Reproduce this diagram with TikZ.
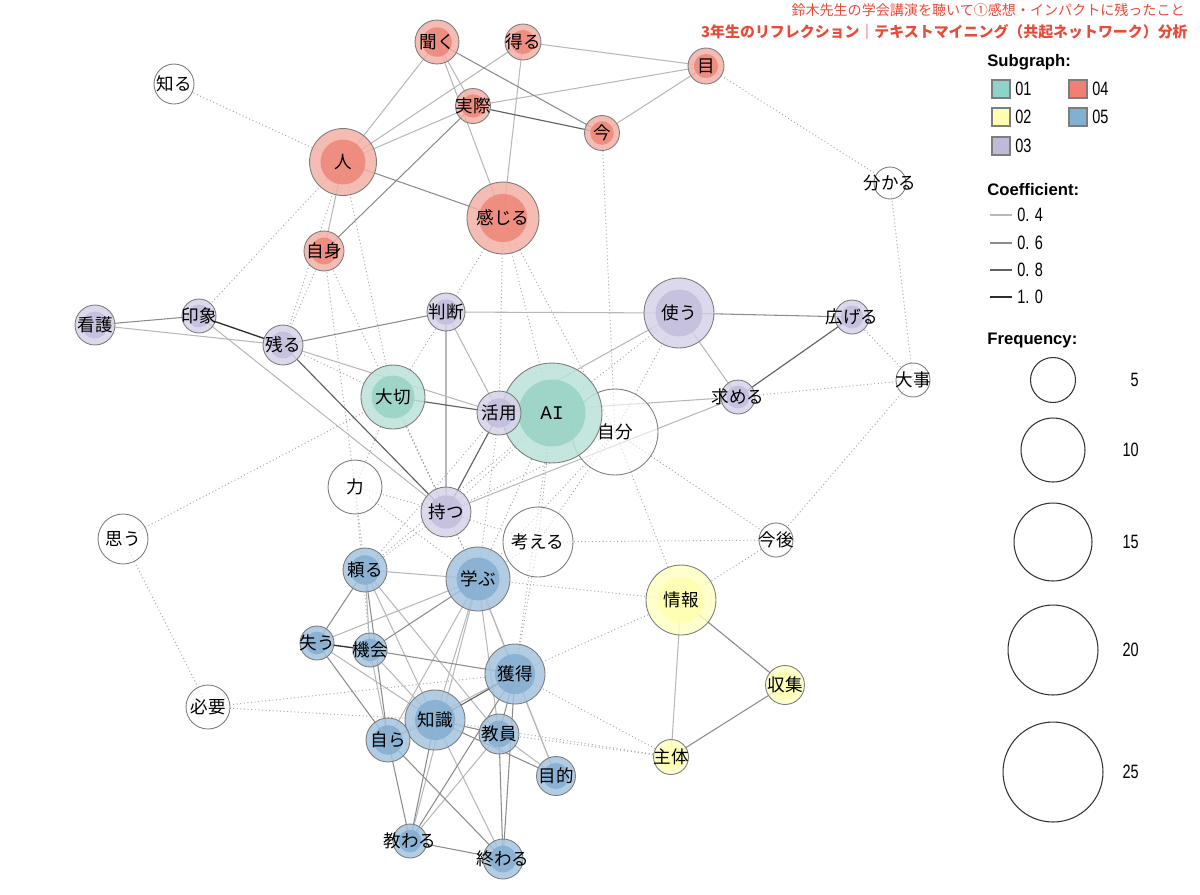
\documentclass[tikz,border=0pt]{standalone}
\usepackage{fontspec}
\setmainfont{Liberation Sans}
\newfontfamily\jp{Noto Sans CJK JP}
\newfontfamily\narrow[FakeStretch=0.75]{Liberation Sans}
\newfontfamily\mono{Liberation Mono}
\definecolor{ttl}{RGB}{234,74,56}
\definecolor{bord}{RGB}{125,125,125}
\definecolor{r4out}{RGB}{242,176,166}\definecolor{r4in}{RGB}{237,134,120}
\definecolor{p3out}{RGB}{213,210,231}\definecolor{p3in}{RGB}{194,190,220}
\definecolor{g1out}{RGB}{186,226,217}\definecolor{g1in}{RGB}{152,211,197}
\definecolor{b5out}{RGB}{164,195,223}\definecolor{b5in}{RGB}{134,174,209}
\definecolor{y2out}{RGB}{255,255,196}\definecolor{y2in}{RGB}{255,255,176}
\definecolor{s01}{RGB}{141,211,199}\definecolor{s02}{RGB}{255,255,179}
\definecolor{s03}{RGB}{190,186,218}\definecolor{s04}{RGB}{239,128,114}
\definecolor{s05}{RGB}{128,177,211}
\pgfdeclarelayer{edges}
\pgfsetlayers{edges,main}
\tikzset{
  clapped/.style={execute at begin node={\hbox to 0pt\bgroup\hss},execute at end node={\hss\egroup}},
  grp/.style n args={3}{circle,draw=bord,line width=.5pt,fill=#2,fill opacity=.85,text opacity=1,
    inner sep=0pt,minimum size=#1*0.04cm,clapped,
    path picture={\fill[#3] (path picture bounding box.center) circle[radius=#1*0.0134cm];}},
  g01/.style={grp={#1}{g1out}{g1in}},
  g02/.style={grp={#1}{y2out}{y2in}},
  g03/.style={grp={#1}{p3out}{p3in}},
  g04/.style={grp={#1}{r4out}{r4in}},
  g05/.style={grp={#1}{b5out}{b5in}},
  wn/.style={circle,draw=bord,line width=.5pt,fill=white,fill opacity=.6,text opacity=1,
    inner sep=0pt,minimum size=#1*0.04cm,clapped},
  coA/.style={draw=black!28,line width=.6pt},
  coB/.style={draw=black!45,line width=.6pt},
  coC/.style={draw=black!62,line width=.65pt},
  coD/.style={draw=black!82,line width=.75pt},
  xgrp/.style={draw=black!35,line width=.55pt,dash pattern=on .55pt off 1.5pt},
  head/.style={anchor=west,inner sep=0pt,font=\bfseries\fontsize{9.5}{10}\selectfont},
  leg/.style={anchor=west,inner sep=0pt,font=\narrow\fontsize{11}{12}\selectfont},
  swatch/.style={draw=bord,line width=.6pt,minimum size=0.36cm,inner sep=0pt}
}
\begin{document}
\begin{tikzpicture}[x=0.02cm,y=-0.02cm,font=\jp\fontsize{10}{11}\selectfont]
\useasboundingbox (0,0) rectangle (1200,894);
\node[anchor=east,inner sep=0pt,text=ttl,font=\jp\fontsize{8}{9}\selectfont] (title) at (1185,10) {鈴木先生の学会講演を聴いて①感想・インパクトに残ったこと};
\node[anchor=east,inner sep=0pt,text=ttl,font=\jp\bfseries\fontsize{8.5}{9}\selectfont] (subtitle) at (1188,32) {3年生のリフレクション｜テキストマイニング（共起ネットワーク）分析};
\node[wn=20] (shiru) at (174,84) {知る};
\node[wn=16] (wakaru) at (890,183) {分かる};
\node[wn=17] (daiji) at (913,380) {大事};
\node[wn=43] (jibun) at (615,432) {自分};
\node[wn=27] (chikara) at (355,487) {力};
\node[wn=25] (omou) at (123,539) {思う};
\node[wn=35] (kangaeru) at (538,542) {考える};
\node[wn=17] (kongo) at (776,540) {今後};
\node[wn=22] (hitsuyou) at (208,707) {必要};
\node[g04=22] (kiku) at (437,42) {聞く};
\node[g04=18] (eru) at (523,42) {得る};
\node[g04=18] (me) at (706,66) {目};
\node[g04=17.5] (jissai) at (473,106) {実際};
\node[g04=17.5] (ima) at (602,133) {今};
\node[g04=33.5] (hito) at (343,162) {人};
\node[g04=36] (kanjiru) at (503,218) {感じる};
\node[g04=20] (jishin) at (324,251) {自身};
\node[g01=32] (taisetsu) at (393,397) {大切};
\node[g01=50] (ai) at (552,413) {\mono\fontsize{11}{12}\selectfont AI};
\node[g03=20] (kango) at (95,325) {看護};
\node[g03=17] (inshou) at (199,316) {印象};
\node[g03=20] (nokoru) at (283,345) {残る};
\node[g03=19] (handan) at (446,312) {判断};
\node[g03=35] (tsukau) at (679,313) {使う};
\node[g03=17] (hirogeru) at (852,317) {広げる};
\node[g03=17] (motomeru) at (738,397) {求める};
\node[g03=22] (katsuyou) at (499,413) {活用};
\node[g03=25] (motsu) at (446,512) {持つ};
\node[g02=35] (jouhou) at (681,600) {情報};
\node[g02=19.5] (shuushuu) at (785,685) {収集};
\node[g02=17.5] (shutai) at (671,757) {主体};
\node[g05=22] (tayoru) at (365,570) {頼る};
\node[g05=32] (manabu) at (478,579) {学ぶ};
\node[g05=17] (ushinau) at (317,643) {失う};
\node[g05=17] (kikai) at (370,650) {機会};
\node[g05=30] (kakutoku) at (515,674) {獲得};
\node[g05=30] (chishiki) at (435,720) {知識};
\node[g05=22] (mizukara) at (388,740) {自ら};
\node[g05=20] (kyouin) at (499,734) {教員};
\node[g05=19.5] (mokuteki) at (556,776) {目的};
\node[g05=17] (osowaru) at (410,841) {教わる};
\node[g05=20] (owaru) at (503,859) {終わる};
\begin{pgfonlayer}{edges}
\foreach \a/\b in {shiru/hito,hito/inshou,hito/nokoru,hito/taisetsu,jishin/nokoru,jishin/chikara,jishin/motsu,
  kanjiru/handan,kanjiru/katsuyou,kanjiru/ai,kanjiru/jibun,ima/jibun,me/wakaru,wakaru/daiji,hirogeru/daiji,
  motomeru/daiji,daiji/kongo,jibun/kongo,kangaeru/kongo,jouhou/kongo,omou/taisetsu,omou/hitsuyou,
  hitsuyou/kakutoku,hitsuyou/chishiki,taisetsu/handan,taisetsu/nokoru,taisetsu/motsu,taisetsu/chikara,
  taisetsu/manabu,ai/tsukau,ai/motsu,ai/kangaeru,ai/manabu,ai/kakutoku,ai/tayoru,jibun/tsukau,
  jibun/kangaeru,jibun/manabu,jibun/jouhou,jibun/motsu,chikara/tayoru,chikara/manabu,chikara/motsu,
  chikara/kikai,motsu/manabu,motsu/kangaeru,motsu/tayoru,kangaeru/manabu,kangaeru/kakutoku,
  jouhou/kakutoku,jouhou/manabu,shutai/kakutoku,shutai/kyouin,shutai/chishiki,katsuyou/manabu,
  katsuyou/tayoru,jouhou/shuushuu}
  \draw[xgrp] (\a.center) -- (\b.center);
\foreach \a/\b in {hito/kiku,hito/eru,hito/jissai,hito/jishin,kiku/jissai,kiku/kanjiru,eru/me,eru/kanjiru,
  jissai/me,ima/me,kango/nokoru,inshou/motsu,nokoru/katsuyou,handan/tsukau,handan/katsuyou,handan/motsu,
  tsukau/motomeru,tsukau/katsuyou,motomeru/katsuyou,motomeru/motsu,jouhou/shutai,tayoru/manabu,
  tayoru/kikai,tayoru/chishiki,tayoru/kyouin,manabu/ushinau,manabu/chishiki,manabu/mizukara,
  manabu/kakutoku,manabu/kyouin,manabu/mokuteki,manabu/osowaru,ushinau/chishiki,kikai/mizukara,
  kikai/chishiki,chishiki/mizukara,chishiki/owaru,mizukara/kakutoku,kakutoku/mokuteki,kyouin/osowaru,
  kyouin/mokuteki}
  \draw[coA] (\a.center) -- (\b.center);
\foreach \a/\b in {hito/kanjiru,kiku/ima,jissai/jishin,kango/inshou,nokoru/handan,tsukau/hirogeru,
  jouhou/shuushuu,shuushuu/shutai,tayoru/ushinau,tayoru/mizukara,manabu/kikai,ushinau/mizukara,
  kikai/kakutoku,chishiki/kyouin,chishiki/mokuteki,chishiki/osowaru,mizukara/osowaru,mizukara/owaru,
  kakutoku/kyouin,kakutoku/osowaru,kakutoku/owaru,kyouin/owaru,osowaru/owaru}
  \draw[coB] (\a.center) -- (\b.center);
\foreach \a/\b in {jissai/ima,nokoru/motsu,hirogeru/motomeru,katsuyou/motsu,taisetsu/katsuyou,chishiki/kakutoku}
  \draw[coC] (\a.center) -- (\b.center);
\foreach \a/\b in {inshou/nokoru,ushinau/kikai}
  \draw[coD] (\a.center) -- (\b.center);
\end{pgfonlayer}
\node[head] (hsub) at (987,62) {Subgraph:};
\node[swatch,fill=s01] (k01) at (1001,89) {};
\node[leg] at (1015,89) {01};
\node[swatch,fill=s02] (k02) at (1001,117) {};
\node[leg] at (1015,117) {02};
\node[swatch,fill=s03] (k03) at (1001,146) {};
\node[leg] at (1015,146) {03};
\node[swatch,fill=s04] (k04) at (1078,89) {};
\node[leg] at (1092,89) {04};
\node[swatch,fill=s05] (k05) at (1078,117) {};
\node[leg] at (1092,117) {05};
\node[head] (hcoef) at (987,190) {Coefficient:};
\draw[coA] (990,215) -- (1012,215); \node[leg] at (1017,215) {0. 4};
\draw[coB] (990,243) -- (1012,243); \node[leg] at (1017,243) {0. 6};
\draw[coC] (990,270) -- (1012,270); \node[leg] at (1017,270) {0. 8};
\draw[coD] (990,297) -- (1012,297); \node[leg] at (1017,297) {1. 0};
\node[head] (hfreq) at (987,340) {Frequency:};
\foreach \f/\y/\r in {5/380/22.5,10/450/32,15/542/39,20/650/45,25/772/50}{
  \node[circle,draw=black!80,line width=.6pt,minimum size=\r*0.04cm,inner sep=0pt] (f\f) at (1053,\y) {};
  \node[leg,anchor=east] at (1139,\y) {\f};
}
\end{tikzpicture}
\end{document}
